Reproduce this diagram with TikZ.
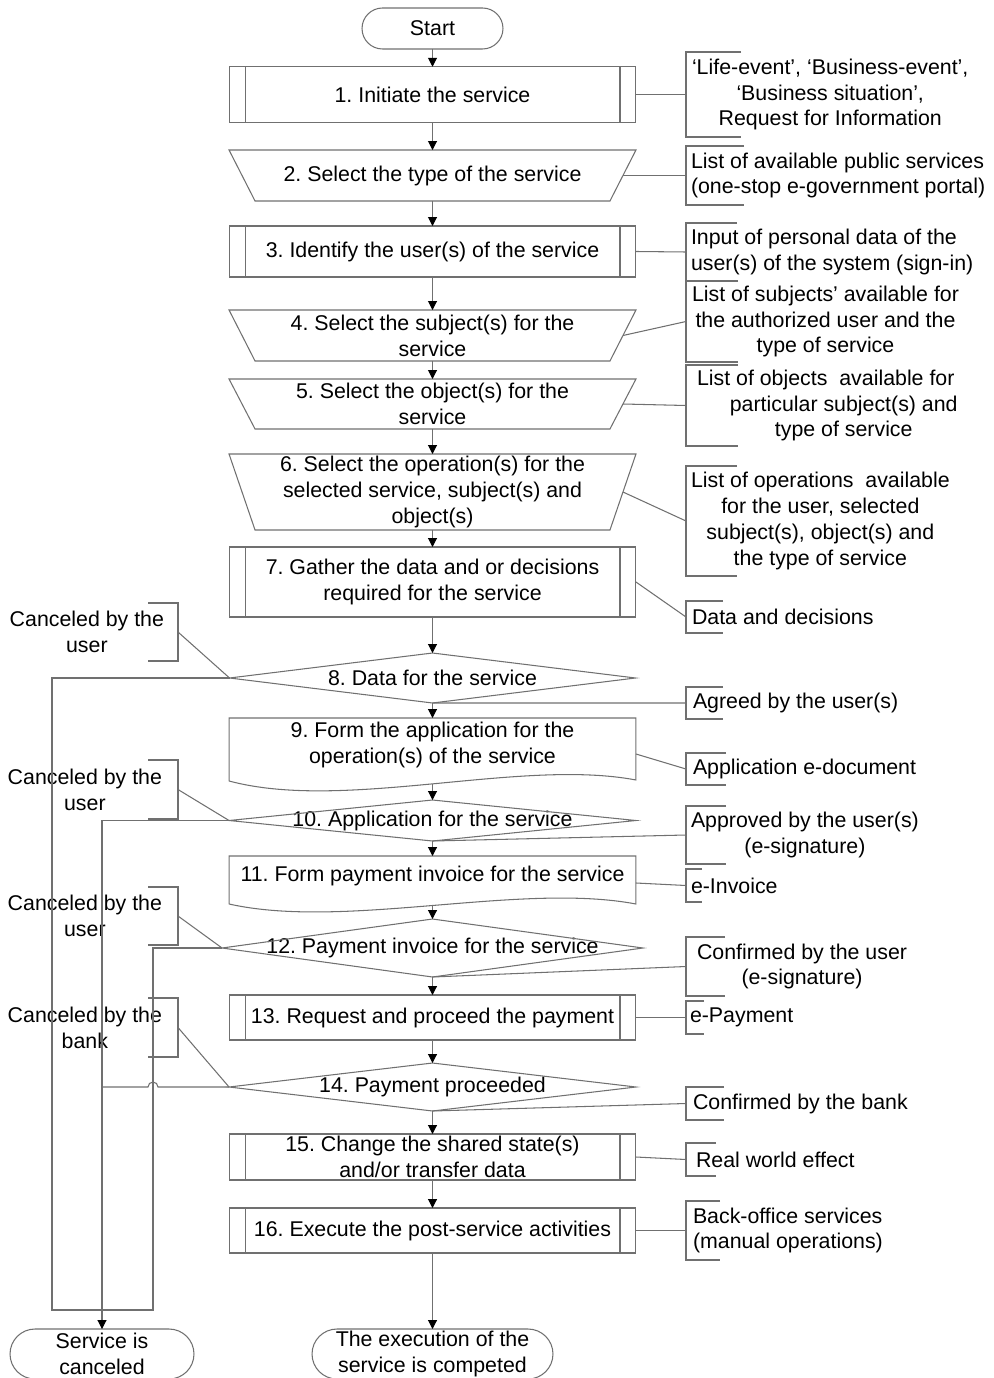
\documentclass[tikz,border=0pt]{standalone}
\usepackage{fontspec}
\setmainfont{Liberation Sans}
\usetikzlibrary{arrows.meta}
\definecolor{lc}{RGB}{112,112,112}
\newcommand\myfs{\fontsize{12.15pt}{14.74pt}\selectfont\frenchspacing}
\frenchspacing
\begin{document}
\begin{tikzpicture}[x=0.02cm,y=-0.02cm,
  every node/.style={font=\myfs, inner sep=0pt, outer sep=0pt},
  ln/.style={draw=lc, line width=0.6pt},
  arr/.style={ln, -{Triangle[length=5.1pt,width=5.1pt,color=black]}},
  shp/.style={rectangle, minimum width=8.14cm, align=center},
  proc/.style={shp, ln, path picture={
     \draw[ln] ([xshift=0.32cm]path picture bounding box.north west) -- ([xshift=0.32cm]path picture bounding box.south west)
               ([xshift=-0.32cm]path picture bounding box.north east) -- ([xshift=-0.32cm]path picture bounding box.south east);}},
  term/.style={rectangle, ln, align=center},
  annR/.style={anchor=west, inner ysep=0pt},
  annL/.style={anchor=east, inner ysep=0pt, align=center},
]
\useasboundingbox (0,0) rectangle (993,1378);
\clip (0,0) rectangle (993,1378);

% ---- main flow nodes ----
\node[term, minimum width=2.82cm, minimum height=0.82cm, rounded corners=0.41cm] (start) at (432.5,28.5) {Start};
\node[proc, minimum height=1.11cm] (n1) at (432.5,94.5) {1. Initiate the service};
\node[shp, minimum height=1.02cm] (n2) at (432.5,175.5) {2. Select the type of the service};
\node[proc, minimum height=1.02cm] (n3) at (432.5,251.5) {3. Identify the user(s) of the service};
\node[shp, minimum height=1.02cm] (n4) at (432.5,335.5) {4. Select the subject(s) for the\\service};
\node[shp, minimum height=1.00cm] (n5) at (432.5,404) {5. Select the object(s) for the\\service};
\node[shp, minimum height=1.52cm] (n6) at (432.5,492) {6. Select the operation(s) for the\\selected service, subject(s) and\\object(s)};
\node[proc, minimum height=1.40cm] (n7) at (432.5,582) {7. Gather the data and or decisions\\required for the service};
\node[shp, minimum width=8.12cm, minimum height=1.00cm] (d8) at (432.5,678) {8. Data for the service};
\node[shp, minimum height=1.08cm] (n9) at (432.5,745) {9. Form the application for the\\operation(s) of the service};
\node[shp, minimum height=0.82cm] (d10) at (432.5,820.5) {10. Application for the service};
\node[shp, minimum height=0.80cm] (n11) at (432.5,876) {11. Form payment invoice for the service};
\node[shp, minimum width=8.42cm, minimum height=1.16cm] (d12) at (432.5,948) {12. Payment invoice for the service};
\node[proc, minimum height=0.90cm] (n13) at (432.5,1017.5) {13. Request and proceed the payment};
\node[shp, minimum height=0.96cm] (d14) at (432.5,1087) {14. Payment proceeded};
\node[proc, minimum height=0.92cm] (n15) at (432.5,1157) {15. Change the shared state(s)\\and/or transfer data};
\node[proc, minimum height=0.90cm] (n16) at (432.5,1230.5) {16. Execute the post-service activities};
\node[term, minimum width=3.68cm, minimum height=1.00cm, rounded corners=0.5cm] (cancel) at (102,1354) {Service is\\canceled};
\node[term, minimum width=4.82cm, minimum height=1.00cm, rounded corners=0.5cm] (done) at (432.5,1354) {The execution of the\\service is competed};

% ---- shape outlines ----
\foreach \n in {n2,n4,n5,n6}
  \draw[ln] (\n.north west) -- (\n.north east) -- ([xshift=-0.52cm]\n.south east) -- ([xshift=0.52cm]\n.south west) -- cycle;
\foreach \n in {d8,d10,d12,d14}
  \draw[ln] (\n.west) -- (\n.north) -- (\n.east) -- (\n.south) -- cycle;
\draw[ln] ([yshift=-0.18cm]n9.south west) -- (n9.north west) -- (n9.north east) -- ([yshift=-0.16cm]n9.south east)
  .. controls +(-2.32cm,0.44cm) and +(2.32cm,-0.62cm) .. ([yshift=-0.18cm]n9.south west);
\draw[ln] ([yshift=-0.16cm]n11.south west) -- (n11.north west) -- (n11.north east) -- ([yshift=-0.16cm]n11.south east)
  .. controls +(-2.32cm,0.44cm) and +(2.32cm,-0.52cm) .. ([yshift=-0.16cm]n11.south west);

% ---- annotations (right) ----
\node[annR, inner xsep=0.12cm, minimum height=1.70cm, align=center] (a1) at (686,94.5) {‘Life-event’, ‘Business-event’,\\‘Business situation’,\\Request for Information};
\node[annR, inner xsep=0.10cm, minimum height=1.18cm, align=left] (a2) at (686,175.5) {List of available public services\\(one-stop e-government portal)};
\node[annR, inner xsep=0.10cm, minimum height=1.16cm, align=left] (a3) at (686,252) {Input of personal data of the\\user(s) of the system (sign-in)};
\node[annR, inner xsep=0.12cm, minimum height=1.62cm, align=center] (a4) at (686,321.5) {List of subjects’ available for\\the authorized user and the\\type of service};
\node[annR, inner xsep=0.22cm, minimum height=1.62cm, align=center] (a5) at (686,405.5) {List of objects~ available for\hspace*{0.72cm}\\particular subject(s) and\\type of service};
\node[annR, inner xsep=0.10cm, minimum height=2.20cm, align=center] (a6) at (686,521) {List of operations~ available\\for the user, selected\\subject(s), object(s) and\\the type of service};
\node[annR, inner xsep=0.12cm, minimum height=0.64cm, align=left] (a7) at (686,617) {Data and decisions};
\node[annR, inner xsep=0.14cm, minimum height=0.64cm, align=left] (a8) at (686,703) {Agreed by the user(s)};
\node[annR, inner xsep=0.14cm, minimum height=0.64cm, align=left] (a9) at (686,769) {Application e-document};
\node[annR, inner xsep=0.10cm, minimum height=1.16cm, align=center] (a10) at (686,835) {Approved by the user(s)\\(e-signature)};
\node[annR, inner xsep=0.10cm, minimum height=0.66cm, align=left] (a11) at (686,885.5) {e-Invoice};
\node[annR, inner xsep=0.22cm, minimum height=1.18cm, align=center] (a12) at (686,966.5) {Confirmed by the user\\(e-signature)};
\node[annR, inner xsep=0.08cm, minimum height=0.66cm, align=left] (a13) at (686,1017.5) {e-Payment};
\node[annR, inner xsep=0.14cm, minimum height=0.66cm, align=left] (a14) at (686,1103.5) {Confirmed by the bank};
\node[annR, inner xsep=0.20cm, minimum height=0.66cm, align=left] (a15) at (686,1159.5) {Real world effect};
\node[annR, inner xsep=0.14cm, minimum height=1.18cm, align=left] (a16) at (686,1230.5) {Back-office services\\(manual operations)};

% ---- annotations (left) ----
\node[annL, inner xsep=0.28cm, minimum height=1.16cm] (L1) at (178,632) {Canceled by the\\user};
\node[annL, inner xsep=0.32cm, minimum height=1.18cm] (L2) at (178,789.5) {Canceled by the\\user};
\node[annL, inner xsep=0.32cm, minimum height=1.16cm] (L3) at (178,916) {Canceled by the\\user};
\node[annL, inner xsep=0.32cm, minimum height=1.18cm] (L4) at (178,1027.5) {Canceled by the\\bank};

% ---- brackets ----
\foreach \n/\t in {a1/1.10,a2/1.16,a3/1.02,a4/1.04,a5/1.04,a6/1.02,a7/0.74,a8/0.74,a9/0.80,a10/0.80,a11/0.32,a12/0.78,a13/0.36,a14/0.76,a15/0.60,a16/0.68}
  \draw[ln] ([xshift=\t cm]\n.north west) -- (\n.north west) -- (\n.south west) -- ([xshift=\t cm]\n.south west);
\foreach \n in {L1,L2,L3,L4}
  \draw[ln] ([xshift=-0.6cm]\n.north east) -- (\n.north east) -- (\n.south east) -- ([xshift=-0.6cm]\n.south east);

% ---- main arrows ----
\draw[arr] (start.south) -- (n1.north);
\draw[arr] (n1.south) -- (n2.north);
\draw[arr] (n2.south) -- (n3.north);
\draw[arr] (n3.south) -- (n4.north);
\draw[arr] (n4.south) -- (n5.north);
\draw[arr] (n5.south) -- (n6.north);
\draw[arr] (n6.south) -- (n7.north);
\draw[arr] (n7.south) -- (d8.north);
\draw[arr] (d8.south) -- (n9.north);
\draw[arr] ([yshift=-0.24cm]n9.south) -- (d10.north);
\draw[arr] (d10.south) -- (n11.north);
\draw[arr] ([yshift=-0.19cm]n11.south) -- (d12.north);
\draw[arr] (d12.south) -- (n13.north);
\draw[arr] (n13.south) -- (d14.north);
\draw[arr] (d14.south) -- (n15.north);
\draw[arr] (n15.south) -- (n16.north);
\draw[arr] (n16.south) -- (done.north);

% ---- annotation connectors ----
\draw[ln] (n1.east) -- (a1.west);
\draw[ln] ([xshift=-0.26cm]n2.east) -- (a2.west);
\draw[ln] (n3.east) -- (a3.west);
\draw[ln] ([xshift=-0.26cm]n4.east) -- (a4.west);
\draw[ln] ([xshift=-0.26cm]n5.east) -- (a5.west);
\draw[ln] ([xshift=-0.26cm]n6.east) -- (a6.west);
\draw[ln] (n7.east) -- (a7.west);
\draw[ln] (d8.south) -- (a8.west);
\draw[ln] ([yshift=-0.18cm]n9.east) -- (a9.west);
\draw[ln] (d10.south) -- (a10.west);
\draw[ln] ([yshift=-0.14cm]n11.east) -- (a11.west);
\draw[ln] (d12.south) -- (a12.west);
\draw[ln] (n13.east) -- (a13.west);
\draw[ln] (d14.south) -- (a14.west);
\draw[ln] (n15.east) -- (a15.west);
\draw[ln] (n16.east) -- (a16.west);
\draw[ln] (L1.east) -- (d8.west);
\draw[ln] (L2.east) -- (d10.west);
\draw[ln] (L3.east) -- (d12.west);
\draw[ln] (L4.east) -- (d14.west);

% ---- cancel routes ----
\coordinate (c1) at (52,1310);
\coordinate (c2) at (153,1310);
\draw[ln] (d8.west) -| (c1) -- (c2) |- (d12.west);
\draw[arr] (d10.west) -| (cancel.north);
\coordinate (h1) at (158,1087);
\coordinate (j1) at (102,1087);
\draw[ln] (d14.west) -- (h1) arc[start angle=0,end angle=180,radius=0.1cm] -- (j1);
\end{tikzpicture}
\end{document}
